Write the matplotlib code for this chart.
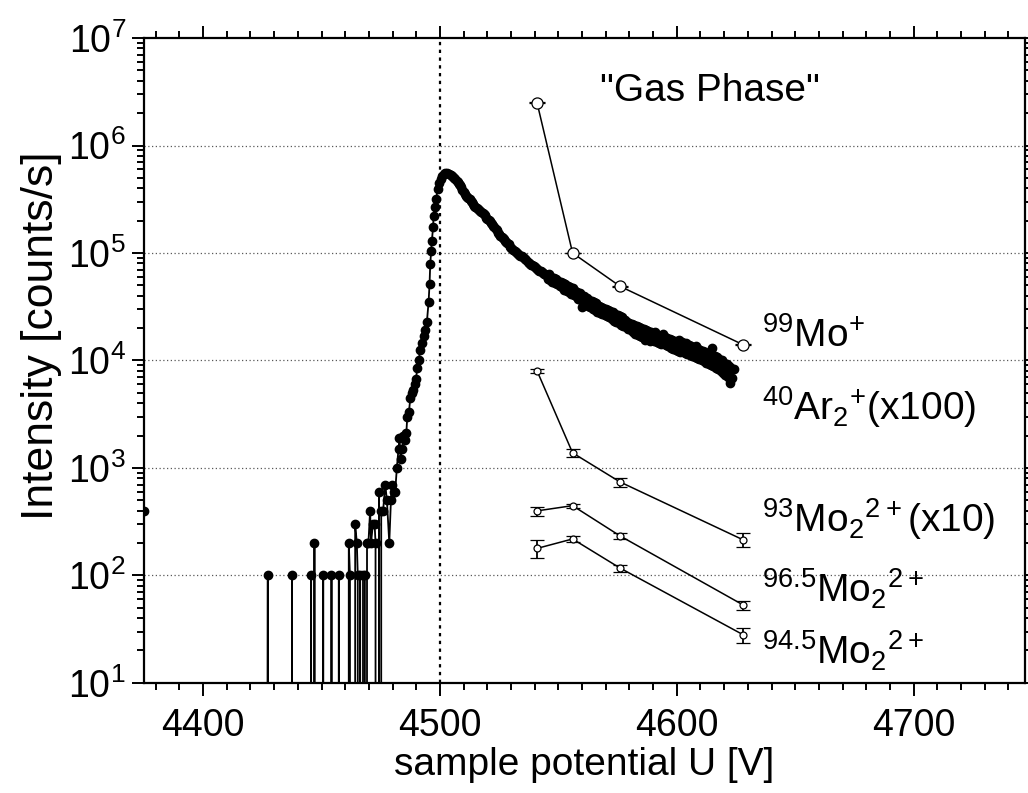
import numpy as np
import matplotlib
matplotlib.use("Agg")
import matplotlib.pyplot as plt
from matplotlib.ticker import LogLocator, MultipleLocator, NullFormatter

plt.rcParams['font.family'] = ['Liberation Sans', 'DejaVu Sans']
plt.rcParams['mathtext.fontset'] = 'custom'
plt.rcParams['mathtext.rm'] = 'Liberation Sans'

# --- scan of the 40Ar2+ (x100) signal, counts/s (0 = no counts) ---
low_u = [4375.0, 4375.6, 4427.3, 4432.0, 4437.5, 4441.0, 4445.6, 4446.3, 4447.0, 4449.0,
         4450.7, 4452.0, 4454.2, 4456.0, 4457.3, 4459.0, 4461.5, 4462.0, 4463.2, 4464.2,
         4464.9, 4465.3, 4465.8, 4466.3, 4467.0, 4467.5, 4468.3, 4468.8, 4469.2, 4469.8,
         4470.5, 4470.9, 4471.7, 4472.4, 4472.8, 4473.6, 4474.3, 4474.8, 4475.2, 4476.0,
         4476.9, 4477.6, 4478.6, 4479.3, 4479.7, 4480.4, 4481.1]
low_i = [400, 0, 100, 0, 100, 0, 100, 0, 200, 0,
         100, 0, 100, 0, 100, 0, 200, 100, 0, 300,
         200, 100, 0, 100, 0, 100, 100, 0, 200, 200,
         400, 200, 300, 300, 200, 0, 600, 0, 400, 400,
         700, 500, 200, 500, 700, 600, 600]

rise_u = [4481.8, 4482.5, 4482.9, 4483.4, 4484.0, 4484.6, 4485.3, 4485.8, 4486.2, 4486.9,
          4487.5, 4488.1, 4488.7, 4489.3, 4489.8, 4490.5, 4491.0, 4491.7, 4492.4, 4493.1,
          4493.8, 4494.5, 4495.2, 4495.6, 4495.9, 4496.3, 4496.6, 4497.1, 4497.3, 4497.9,
          4498.4, 4499.0, 4499.8, 4500.3, 4500.8, 4501.5, 4502.2, 4503.0, 4503.8, 4504.5]
rise_i = [1000, 1500, 1900, 1200, 1500, 2000, 1800, 2100, 3000, 3300,
          4500, 5000, 5300, 6000, 6700, 8500, 10000, 12500, 14500, 17000,
          19000, 23000, 35000, 51000, 79000, 105000, 130000, 175000, 220000, 270000,
          320000, 390000, 450000, 490000, 520000, 540000, 550000, 550000, 545000, 535000]

# decaying tail, 0.5 V steps from 4505 V, log10(counts/s)
tail_start, tail_step = 4505.0, 0.5
tail_log10 = [
    5.72, 5.71, 5.70, 5.69, 5.67, 5.66, 5.64, 5.63, 5.61, 5.59,
    5.57, 5.55, 5.53, 5.52, 5.51, 5.50, 5.48, 5.47, 5.46, 5.44,
    5.43, 5.42, 5.41, 5.40, 5.39, 5.38, 5.37, 5.36, 5.35, 5.33,
    5.32, 5.31, 5.30, 5.28, 5.27, 5.25, 5.24, 5.22, 5.21, 5.19,
    5.18, 5.16, 5.15, 5.14, 5.13, 5.11, 5.10, 5.09, 5.08, 5.06,
    5.05, 5.04, 5.03, 5.02, 5.01, 5.00, 4.99, 4.98, 4.97, 4.97,
    4.96, 4.95, 4.94, 4.93, 4.92, 4.91, 4.90, 4.89, 4.89, 4.88,
    4.87, 4.86, 4.85, 4.84, 4.83, 4.83, 4.82, 4.81, 4.80, 4.80,
    4.79, 4.76, 4.80, 4.75, 4.78, 4.73, 4.77, 4.72, 4.76, 4.71,
    4.74, 4.69, 4.73, 4.68, 4.72, 4.66, 4.71, 4.65, 4.69, 4.64,
    4.68, 4.62, 4.67, 4.61, 4.65, 4.60, 4.64, 4.57, 4.63, 4.56,
    4.50, 4.55, 4.60, 4.53, 4.58, 4.51, 4.56, 4.50, 4.55, 4.48,
    4.54, 4.47, 4.53, 4.45, 4.51, 4.44, 4.50, 4.43, 4.49, 4.42,
    4.48, 4.41, 4.47, 4.40, 4.46, 4.39, 4.45, 4.37, 4.43, 4.36,
    4.42, 4.35, 4.41, 4.33, 4.40, 4.32, 4.38, 4.31, 4.36, 4.29,
    4.35, 4.28, 4.34, 4.26, 4.33, 4.25, 4.32, 4.24, 4.31, 4.23,
    4.30, 4.22, 4.29, 4.19, 4.28, 4.21, 4.27, 4.18, 4.26, 4.19,
    4.25, 4.18, 4.26, 4.17, 4.24, 4.16, 4.23, 4.15, 4.25, 4.16,
    4.22, 4.14, 4.21, 4.13, 4.20, 4.12, 4.19, 4.11, 4.18, 4.10,
    4.18, 4.09, 4.19, 4.08, 4.17, 4.10, 4.15, 4.07, 4.16, 4.06,
    4.14, 4.05, 4.13, 4.04, 4.12, 4.03, 4.13, 4.02, 4.11, 4.01,
    4.10, 4.00, 4.09, 3.99, 4.08, 3.98, 4.07, 3.97, 4.06, 3.96,
    4.12, 3.95, 4.04, 3.93, 4.03, 3.92, 4.01, 3.90, 4.00, 3.88,
    3.98, 3.86, 3.97, 3.85, 3.95, 3.79, 3.93, 3.84, 3.92,
]

# --- Mo ion series (open symbols) ---
mo_u = [4541.0, 4556.0, 4576.0, 4628.0]
mo99_i = [2.5e6, 1.0e5, 4.9e4, 1.4e4]
mo99_err = [2.5e4, 1.0e3, 5.0e2, 1.4e2]
mo93_i = [8000, 1380, 740, 214]
mo93_err = [300, 110, 70, 32]
mo965_i = [398, 445, 233, 53]
mo965_err = [38, 20, 14, 5]
mo945_i = [178, 218, 117, 28]
mo945_err = [33, 15, 9, 4.5]

tail_u = tail_start + tail_step * np.arange(len(tail_log10))
scan_u = np.concatenate([low_u, rise_u, tail_u])
scan_i = np.concatenate([low_i, rise_i, 10.0 ** np.array(tail_log10)])

fig = plt.figure(figsize=(10.28, 7.93), dpi=100)
ax = fig.add_axes([0.140, 0.139, 0.857, 0.813])
ax.set_yscale('log')
ax.set_xlim(4375, 4747)
ax.set_ylim(10, 1e7)

# grid
for d in [1e2, 1e3, 1e4, 1e5, 1e6]:
    ax.axhline(d, color='0.35', lw=0.9, ls=(0, (1, 2)), zorder=0)
ax.axvline(4500, color='black', lw=1.6, ls=(0, (1.5, 2)), zorder=0)

ax.plot(scan_u, scan_i, '-o', color='black', lw=1.3, ms=6, zorder=3)

ax.errorbar(mo_u, mo99_i, yerr=mo99_err, fmt='-o', color='black', mfc='white',
            ms=8, mew=0.9, lw=1.1, capsize=6, capthick=1.0, zorder=4)
for vals, errs in [(mo93_i, mo93_err), (mo965_i, mo965_err), (mo945_i, mo945_err)]:
    ax.errorbar(mo_u, vals, yerr=errs, fmt='-o', color='black', mfc='white',
                ms=5, mew=0.9, lw=1.1, capsize=5, capthick=1.6, elinewidth=1.3,
                zorder=4)

# labels
lab_kw = dict(fontsize=28, ha='left', va='baseline')
ax.text(4636, 10 ** 4.13, r'$\mathregular{^{99}Mo^{+}}$', **lab_kw)
ax.text(4636, 10 ** 3.45, r'$\mathregular{^{40}Ar_{2}{}^{+}(x100)}$', **lab_kw)
ax.text(4636, 10 ** 2.40, r'$\mathregular{^{93}Mo_{2}{}^{2+}(x10)}$', **lab_kw)
ax.text(4636, 10 ** 1.75, r'$\mathregular{^{96.5}Mo_{2}{}^{2+}}$', **lab_kw)
ax.text(4636, 10 ** 1.17, r'$\mathregular{^{94.5}Mo_{2}{}^{2+}}$', **lab_kw)
ax.text(4614, 10 ** 6.41, '"Gas Phase"', fontsize=28, ha='center', va='baseline')

# axes styling
ax.xaxis.set_major_locator(MultipleLocator(100))
ax.xaxis.set_minor_locator(MultipleLocator(10))
ax.yaxis.set_major_locator(LogLocator(base=10, numticks=10))
ax.yaxis.set_minor_locator(LogLocator(base=10, subs=np.arange(2, 10), numticks=10))
ax.yaxis.set_minor_formatter(NullFormatter())
ax.tick_params(which='both', direction='out', top=True, right=True, width=1.4)
ax.tick_params(which='major', length=9)
ax.tick_params(which='minor', length=5)
ax.tick_params(axis='x', labelsize=27, pad=9)
ax.tick_params(axis='y', labelsize=27, pad=4)
for s in ax.spines.values():
    s.set_linewidth(1.6)

ax.set_xlabel('sample potential U [V]', fontsize=28, labelpad=2)
ax.set_ylabel('Intensity [counts/s]', fontsize=32, labelpad=4)
ax.yaxis.label.set_y(0.538)

fig.savefig('out.png', dpi=100)
